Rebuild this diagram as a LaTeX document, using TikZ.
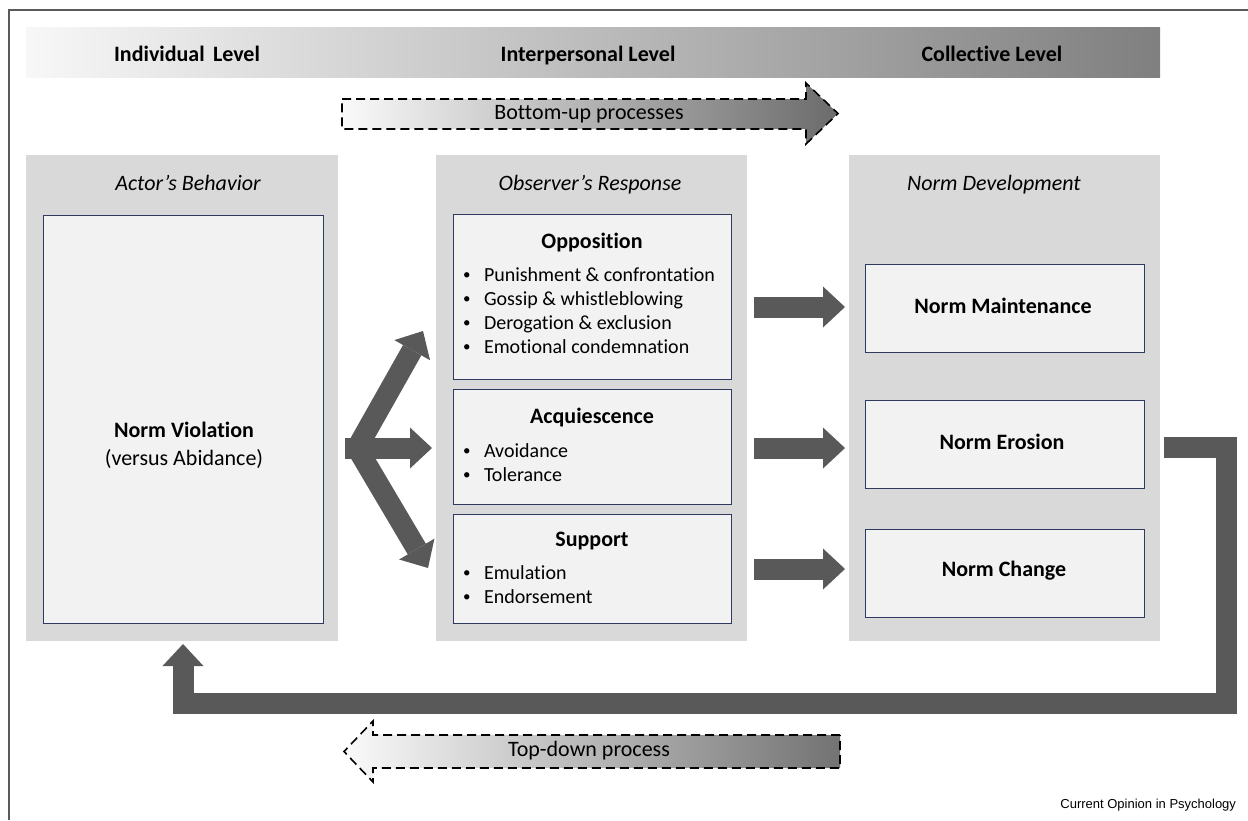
\documentclass[tikz,border=0pt]{standalone}
\usepackage{fontspec}
\setmainfont{Carlito}[Ligatures=NoCommon]
\newfontfamily\creditfont{Liberation Sans}
\usetikzlibrary{arrows.meta}
\definecolor{panel}{HTML}{D9D9D9}
\definecolor{boxfill}{HTML}{F2F2F2}
\definecolor{boxline}{HTML}{2E3B5E}
\definecolor{arrowgray}{HTML}{595959}
\definecolor{framegray}{HTML}{5A5A5A}
\newcommand{\bulitem}[1]{\makebox[21pt][l]{\raisebox{1.5pt}{\fontsize{15}{15}\selectfont•}}#1}
\begin{document}
\begin{tikzpicture}[x=1pt,y=-1pt,
  every node/.style={inner sep=0pt, outer sep=0pt},
  fattip/.tip={Triangle[length=22pt,width=41pt,line width=0pt]},
  panelbox/.style={fill=panel, minimum width=311pt, minimum height=486pt, anchor=north west},
  innerbox/.style={fill=boxfill, draw=boxline, line width=1pt, anchor=north west},
  lvl/.style={font=\fontsize{22}{26}\selectfont\bfseries, anchor=base},
  hdr/.style={font=\fontsize{22}{26}\selectfont\bfseries, anchor=base},
  ital/.style={font=\fontsize{22}{26}\selectfont\itshape, anchor=base},
  plain/.style={font=\fontsize{22}{26}\selectfont, anchor=base},
  lst/.style={font=\fontsize{20}{24}\selectfont, anchor=base west},
  fat/.style={draw=arrowgray, line width=21pt, line join=miter, -fattip},
  dasharrow/.style={draw=black, line width=1.6pt, dash pattern=on 9pt off 5pt, line join=miter}
]
\useasboundingbox (0,0) rectangle (1248,820);

% outer frame
\draw[framegray, line width=1.5pt] (9,820) -- (9,10) -- (1248,10);

% level band
\node[anchor=north west, minimum width=1134pt, minimum height=50pt,
      left color=white!94!gray, right color=black!50] (band) at (26,27) {};
\node[lvl] (lvlInd) at (187,61) {Individual\hspace{0.15em} Level};
\node[lvl] (lvlInt) at (588,61) {Interpersonal Level};
\node[lvl] (lvlCol) at (992,61) {Collective Level};

% bottom-up process arrow
\shadedraw[dasharrow, left color=white!96!gray, right color=black!58]
  (342,99) -- (806,99) -- (806,83) -- (838,113.5) -- (806,144) -- (806,129) -- (342,129) -- cycle;
\node[plain] (bottomup) at (589,119) {Bottom-up processes};

% three level panels
\node[panelbox, minimum width=312pt] (actorP) at (26,155) {};
\node[panelbox] (obsP) at (436,155) {};
\node[panelbox] (devP) at (849,155) {};
\node[ital] (actorT) at (188,190) {Actor’s Behavior};
\node[ital] (obsT) at (590,190) {Observer’s Response};
\node[ital] (devT) at (994,190) {Norm Development};

% actor's behavior
\node[innerbox, minimum width=280pt, minimum height=408pt] (viol) at (43,215) {};
\node[hdr] (violT) at (184,437) {Norm Violation};
\node[plain] (violS) at (184,465) {(versus Abidance)};

% observer's responses
\node[innerbox, minimum width=278pt, minimum height=165pt] (opp) at (453,214) {};
\node[innerbox, minimum width=278pt, minimum height=115pt] (acq) at (453,389) {};
\node[innerbox, minimum width=278pt, minimum height=109pt] (sup) at (453,514) {};

\node[hdr] (oppT) at (592,248) {Opposition};
\node[lst] (opp1) at (463,281) {\bulitem{Punishment \& confrontation}};
\node[lst] (opp2) at (463,305) {\bulitem{Gossip \& whistleblowing}};
\node[lst] (opp3) at (463,329) {\bulitem{Derogation \& exclusion}};
\node[lst] (opp4) at (463,353) {\bulitem{Emotional condemnation}};

\node[hdr] (acqT) at (592,423) {Acquiescence};
\node[lst] (acq1) at (463,457) {\bulitem{Avoidance}};
\node[lst] (acq2) at (463,481) {\bulitem{Tolerance}};

\node[hdr] (supT) at (592,546) {Support};
\node[lst] (sup1) at (463,579) {\bulitem{Emulation}};
\node[lst] (sup2) at (463,603) {\bulitem{Endorsement}};

% norm development outcomes
\node[innerbox, minimum width=279pt, minimum height=88pt] (maint) at (865,264) {};
\node[innerbox, minimum width=279pt, minimum height=88pt] (eros) at (865,400) {};
\node[innerbox, minimum width=279pt, minimum height=88pt] (chg) at (865,529) {};
\node[hdr] (maintT) at (1003,313) {Norm Maintenance};
\node[hdr] (erosT) at (1002,449) {Norm Erosion};
\node[hdr] (chgT) at (1004,576) {Norm Change};

% fork from the violation to the three responses
\coordinate (fv) at (357,448);
\coordinate (fm0) at (345,448);
\coordinate (fu) at (423,331);
\coordinate (fm) at (432,448);
\coordinate (fl) at (428,568);
\draw[fat, line join=bevel, fattip-fattip] (fu) -- (fv) -- (fl);
\draw[fat] (fm0) -- (fm);

% responses to outcomes
\coordinate (r1s) at (754,307);   \coordinate (r1e) at (845,307);
\coordinate (r2s) at (754,448);   \coordinate (r2e) at (845,448);
\coordinate (r3s) at (754,569);   \coordinate (r3e) at (845,569);
\draw[fat] (r1s) -- (r1e);
\draw[fat] (r2s) -- (r2e);
\draw[fat] (r3s) -- (r3e);

% feedback loop back to the actor
\coordinate (fbS) at (1164,447.5);
\coordinate (fbR) at (1226,703);
\coordinate (fbL) at (183,703);
\draw[fat] (fbS) -| (fbR) -- (fbL) -- ([yshift=-3pt]fbL |- actorP.south);

% top-down process arrow
\shadedraw[dasharrow, left color=white!96!gray, right color=black!55]
  (840,735) -- (373,735) -- (373,721) -- (344,751.5) -- (373,782) -- (373,768) -- (840,768) -- cycle;
\node[plain] (topdown) at (589,756) {Top-down process};

% credit line
\node[font=\creditfont\fontsize{13}{15}\selectfont, anchor=base east] (credit) at (1236,808) {Current Opinion in Psychology};
\end{tikzpicture}
\end{document}
